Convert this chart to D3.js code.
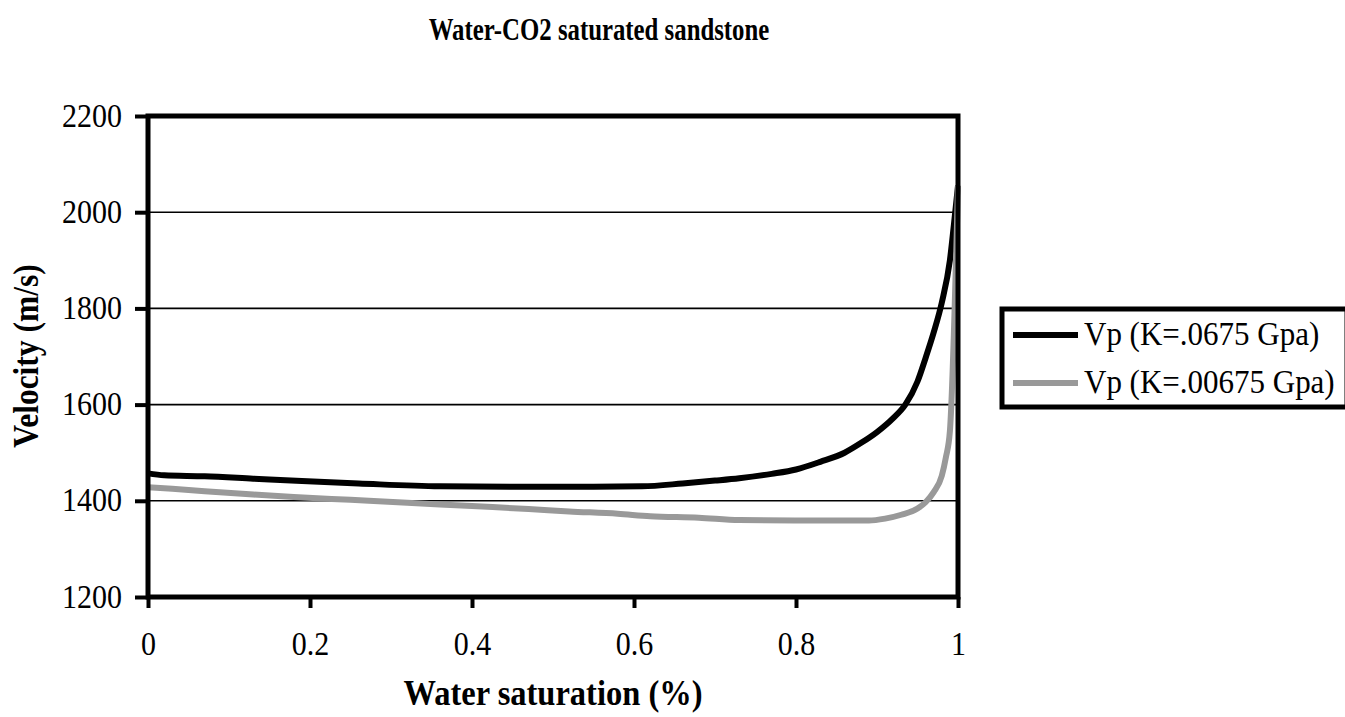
<!DOCTYPE html>
<html>
<head>
<meta charset="utf-8">
<script src="https://cdn.jsdelivr.net/npm/d3@7"></script>
<style>
  html, body { margin: 0; padding: 0; background: #fff; }
  svg { display: block; }
  text { font-family: "Liberation Serif", "Times New Roman", serif; fill: #000; }
</style>
</head>
<body>
<svg id="chart" width="1345" height="717"></svg>
<script>
// ---- data ----
const chartTitle = "Water-CO2 saturated sandstone";
const xTitle = "Water saturation (%)";
const yTitle = "Velocity (m/s)";
const xTicks = [0, 0.2, 0.4, 0.6, 0.8, 1];
const yTicks = [1200, 1400, 1600, 1800, 2000, 2200];
const seriesNames = ["Vp (K=.0675 Gpa)", "Vp (K=.00675 Gpa)"];

const swHigh = [0, 0.02, 0.07, 0.13, 0.19, 0.26, 0.36, 0.45, 0.55, 0.61, 0.66, 0.70, 0.73, 0.77, 0.80, 0.83, 0.86, 0.88, 0.90, 0.92, 0.935, 0.95, 0.96, 0.97, 0.98, 0.99, 0.995, 1.0];
const vpHigh = [1457, 1453, 1451, 1446, 1441, 1436, 1430, 1429, 1429, 1430, 1436, 1442, 1447, 1456, 1465, 1481, 1500, 1520, 1543, 1572, 1600, 1648, 1697, 1750, 1812, 1900, 1975, 2055];

const swLow = [0, 0.03, 0.07, 0.13, 0.18, 0.25, 0.32, 0.40, 0.47, 0.52, 0.58, 0.62, 0.68, 0.73, 0.80, 0.89, 0.91, 0.93, 0.95, 0.96, 0.97, 0.98, 0.985, 0.99, 1.0];
const vpLow = [1428, 1425, 1420, 1413, 1408, 1402, 1396, 1389, 1383, 1378, 1373, 1368, 1365, 1360, 1359, 1359, 1363, 1371, 1384, 1397, 1418, 1452, 1490, 1545, 2055];

const seriesColors = ["#000000", "#999999"];

// ---- chart ----
const svg = d3.select("#chart");
const x = d3.scaleLinear().domain([0, 1]).range([148, 958]);
const y = d3.scaleLinear().domain([1200, 2200]).range([597, 116]);

// gridlines
svg.append("g").selectAll("line")
  .data(yTicks.filter(v => v > 1200 && v < 2200))
  .join("line")
  .attr("x1", x(0)).attr("x2", x(1))
  .attr("y1", d => y(d)).attr("y2", d => y(d))
  .attr("stroke", "#000").attr("stroke-width", 1.6);

// series
const series = [
  { name: seriesNames[0], pts: swHigh.map((s, i) => [s, vpHigh[i]]), color: seriesColors[0] },
  { name: seriesNames[1], pts: swLow.map((s, i) => [s, vpLow[i]]), color: seriesColors[1] }
];
const line = d3.line().x(d => x(d[0])).y(d => y(d[1])).curve(d3.curveMonotoneX);
svg.append("g").selectAll("path")
  .data(series)
  .join("path")
  .attr("d", d => line(d.pts))
  .attr("fill", "none")
  .attr("stroke", d => d.color)
  .attr("stroke-width", 6)
  .attr("stroke-linejoin", "round");

// axes
const yAxis = d3.axisLeft(y).tickValues(yTicks).tickSize(13).tickFormat(d3.format("d"));
const gy = svg.append("g").attr("transform", `translate(${x(0)},0)`).call(yAxis);
gy.select(".domain").remove();
gy.selectAll(".tick line").attr("stroke", "#000").attr("stroke-width", 4);
gy.selectAll(".tick text")
  .attr("font-size", 30).attr("x", null).attr("y", null).attr("dy", null)
  .attr("transform", "translate(-26,10) scale(1,1.13)")
  .style("font-family", "'Liberation Serif', serif");

const xAxis = d3.axisBottom(x).tickValues(xTicks).tickSize(11).tickFormat(d => d3.format("")(d));
const gx = svg.append("g").attr("transform", `translate(0,${y(1200)})`).call(xAxis);
gx.select(".domain").remove();
gx.selectAll(".tick line").attr("stroke", "#000").attr("stroke-width", 4);
gx.selectAll(".tick text")
  .attr("font-size", 30).attr("x", null).attr("y", null).attr("dy", null)
  .attr("transform", "translate(0,58) scale(1,1.13)")
  .style("font-family", "'Liberation Serif', serif");

// plot frame
svg.append("rect")
  .attr("x", x(0)).attr("y", y(2200))
  .attr("width", x(1) - x(0)).attr("height", y(1200) - y(2200))
  .attr("fill", "none").attr("stroke", "#000").attr("stroke-width", 5);

// titles
svg.append("text")
  .attr("transform", "translate(599,40) scale(0.8,1.05)")
  .attr("text-anchor", "middle").attr("font-weight", "bold").attr("font-size", 31)
  .text(chartTitle);

svg.append("text")
  .attr("transform", "translate(553,705) scale(1,1.1)")
  .attr("text-anchor", "middle").attr("font-weight", "bold").attr("font-size", 32.5)
  .text(xTitle);

svg.append("text")
  .attr("transform", "translate(38,356) rotate(-90) scale(1,1.12)")
  .attr("text-anchor", "middle").attr("font-weight", "bold").attr("font-size", 31.5)
  .text(yTitle);

// legend
const lg = svg.append("g");
lg.append("rect")
  .attr("x", 1002).attr("y", 309).attr("width", 345).attr("height", 98)
  .attr("fill", "#fff").attr("stroke", "#000").attr("stroke-width", 5);
const items = lg.selectAll("g.item").data(series).join("g").attr("class", "item")
  .attr("transform", (d, i) => `translate(0,${335 + i * 48})`);
items.append("line")
  .attr("x1", 1013).attr("x2", 1078).attr("y1", 0).attr("y2", 0)
  .attr("stroke", d => d.color).attr("stroke-width", 6);
items.append("text")
  .attr("transform", "translate(1084,10) scale(1,1.08)")
  .attr("font-size", 31)
  .text(d => d.name);
</script>
</body>
</html>
